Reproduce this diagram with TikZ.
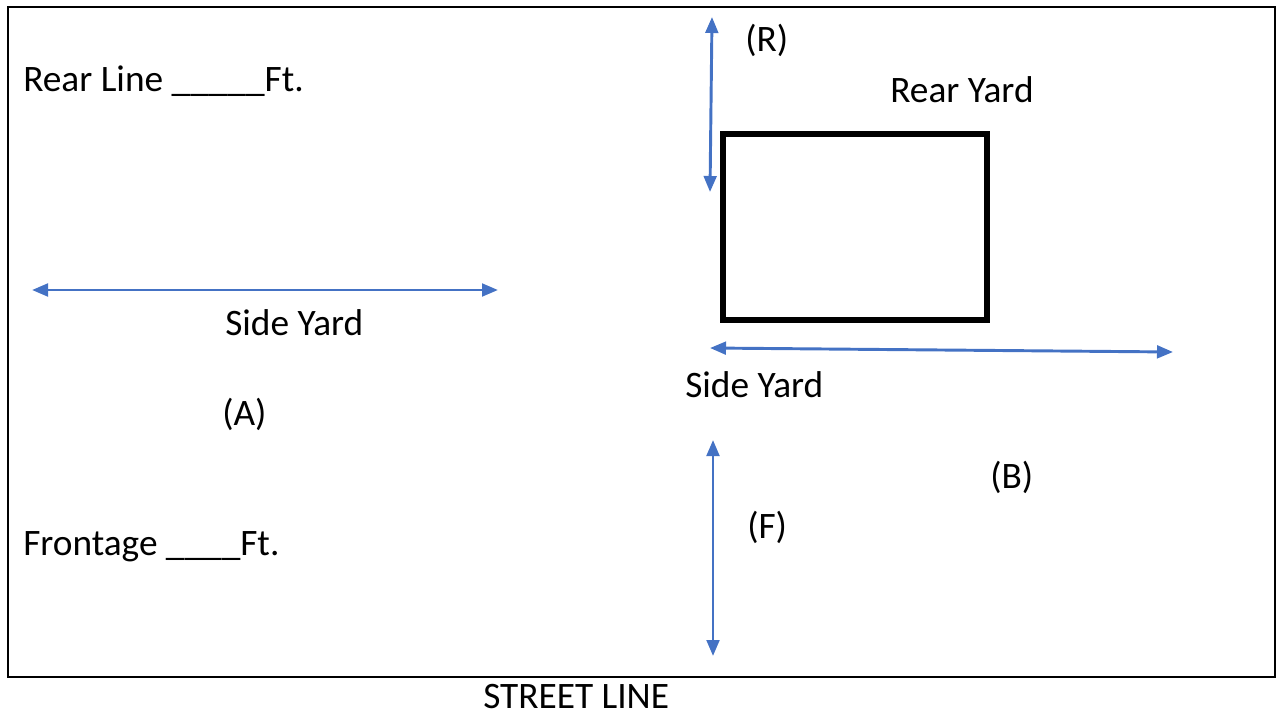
\documentclass[tikz,border=0pt]{standalone}
\usepackage{fontspec}
\setmainfont{Carlito}
\usetikzlibrary{arrows.meta}
\definecolor{arrowblue}{RGB}{68,114,196}

\begin{document}
\begin{tikzpicture}[x=0.75pt,y=-0.75pt,
  lbl/.style={anchor=base west,inner sep=0pt,font=\fontsize{28}{33}\selectfont},
  dim/.style={arrowblue,line width=2.2pt,{Triangle[length=12pt,width=9.5pt]}-{Triangle[length=12pt,width=9.5pt]}}]
\useasboundingbox (0,0) rectangle (1280,717);
\draw[line width=1.6pt] (8,7) rectangle (1275,677);
\draw[line width=3.8pt] (723,134) rectangle (987,320);
\draw[dim] (712,17) -- (710,192);
\draw[dim] (32,290) -- (498,290);
\draw[dim] (710,348) -- (1173,352);
\draw[dim] (713,440) -- (713,656);
\node[lbl] (rearline) at (23,91) {Rear Line \_\_\_\_\_Ft.};
\node[lbl] (r) at (745,52) {(R)};
\node[lbl] (rearyard) at (890,102) {Rear Yard};
\node[lbl] (sideyardA) at (225,335) {Side Yard};
\node[lbl] (a) at (222,425) {(A)};
\node[lbl] (sideyardB) at (685,397) {Side Yard};
\node[lbl] (b) at (990,488) {(B)};
\node[lbl] (f) at (747,538) {(F)};
\node[lbl] (frontage) at (23,555) {Frontage \_\_\_\_Ft.};
\node[lbl,text depth=0pt] (street) at (483,708) {STREET LINE};
\end{tikzpicture}
\end{document}
